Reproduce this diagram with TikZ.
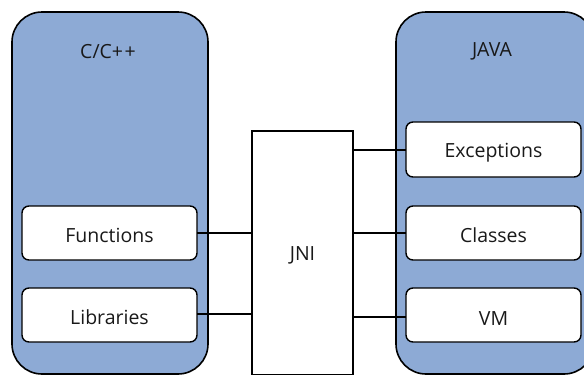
\documentclass[tikz,border=0pt]{standalone}
\usepackage{fontspec}
\setmainfont{Open Sans}
\definecolor{panelblue}{RGB}{141,170,213}
\begin{document}
\begin{tikzpicture}[x=1pt,y=-1pt,
  panel/.style={draw=black,line width=1.6pt,fill=panelblue,rounded corners=30pt},
  item/.style={draw=black,line width=1.4pt,fill=white,rounded corners=7pt},
  bridge/.style={draw=black,line width=1.4pt,fill=white},
  link/.style={draw=black,line width=1.4pt},
  lbl/.style={font=\fontsize{19.5}{23}\selectfont,text=black!90,yshift=-2.5pt}]
\useasboundingbox (0,0) rectangle (584,376);
\begin{scope}
\clip (0,0) rectangle (584,376);
% language panels
\path[panel] (12,12) rectangle (208,374);
\path[panel] (396,12) rectangle (594,374);
\end{scope}
\node[lbl] (ctitle) at (108,49) {C/C+\kern1.5pt+};
\node[lbl] (jtitle) at (492,49) {JAVA};
% native side
\path[item] (22,206) rectangle (197,260);
\node[lbl] (fun) at (109.5,233) {Functions};
\path[item] (22,288) rectangle (197,342);
\node[lbl] (lib) at (109.5,315) {Libraries};
% java side
\path[item] (406,122) rectangle (581,177);
\node[lbl] (exc) at (493.5,150) {Exceptions};
\path[item] (406,206) rectangle (581,260);
\node[lbl] (cls) at (493.5,233) {Classes};
\path[item] (406,288) rectangle (581,342);
\node[lbl] (vm) at (493.5,316) {VM};
% bridge
\path[bridge] (252,131) rectangle (353,374.5);
\node[lbl] (jni) at (302.5,253) {JNI};
\coordinate (fR) at (197,233);
\coordinate (lR) at (197,314);
\coordinate (jL1) at (252,233);
\coordinate (jL2) at (252,314);
\coordinate (jR1) at (353,150);
\coordinate (jR2) at (353,233);
\coordinate (jR3) at (353,317);
\coordinate (eL) at (406,150);
\coordinate (cL) at (406,233);
\coordinate (vL) at (406,317);
\draw[link] (fR) -- (jL1);
\draw[link] (lR) -- (jL2);
\draw[link] (jR1) -- (eL);
\draw[link] (jR2) -- (cL);
\draw[link] (jR3) -- (vL);
\end{tikzpicture}
\end{document}
